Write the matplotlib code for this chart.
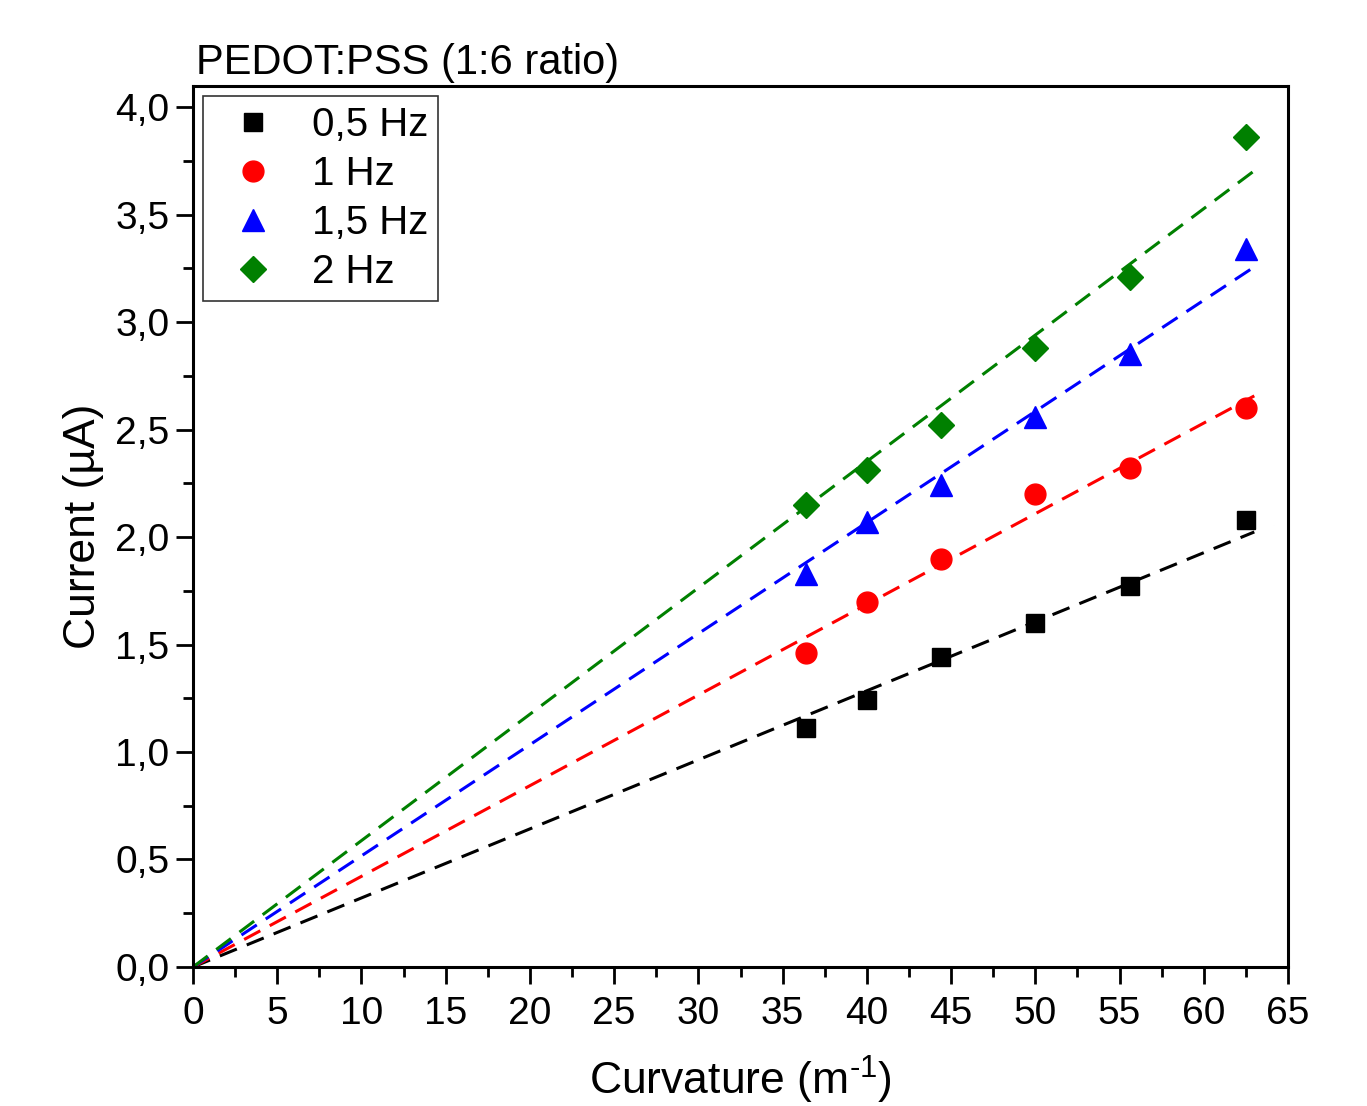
import numpy as np
import matplotlib.pyplot as plt
from matplotlib.ticker import MultipleLocator, FuncFormatter

plt.rcParams['font.family'] = ['Liberation Sans', 'DejaVu Sans']
plt.rcParams['mathtext.fontset'] = 'custom'
plt.rcParams['mathtext.rm'] = 'Liberation Sans'

# curvature (1/m) and current (uA) per frequency
curvature = [36.4, 40.0, 44.4, 50.0, 55.6, 62.5]
i_05hz = [1.11, 1.24, 1.44, 1.60, 1.77, 2.08]
i_1hz = [1.46, 1.70, 1.90, 2.20, 2.32, 2.60]
i_15hz = [1.83, 2.07, 2.24, 2.56, 2.85, 3.34]
i_2hz = [2.15, 2.31, 2.52, 2.88, 3.21, 3.86]
labels = ['0,5 Hz', '1 Hz', '1,5 Hz', '2 Hz']

series = [i_05hz, i_1hz, i_15hz, i_2hz]
colors = ['black', 'red', 'blue', 'green']
markers = ['s', 'o', '^', 'D']
msizes = [13, 15, 16, 13]

fig = plt.figure(figsize=(13.67, 11.06), dpi=100)
ax = fig.add_axes([0.1412, 0.1257, 0.8010, 0.7965])

x = np.array(curvature)
xfit = np.linspace(0, 63, 50)
for y, c, m, ms, lab in zip(series, colors, markers, msizes, labels):
    y = np.array(y)
    # linear fit through the origin
    slope = np.sum(x * y) / np.sum(x * x)
    ax.plot(xfit, slope * xfit, color=c, lw=2.2, dashes=(6, 3.5), zorder=2)
    ax.plot(x, y, ls='none', marker=m, ms=ms, color=c, mec=c, label=lab, zorder=3)

ax.set_xlim(0, 65)
ax.set_ylim(0, 4.098)
ax.xaxis.set_major_locator(MultipleLocator(5))
ax.xaxis.set_minor_locator(MultipleLocator(2.5))
ax.yaxis.set_major_locator(MultipleLocator(0.5))
ax.yaxis.set_minor_locator(MultipleLocator(0.25))
ax.yaxis.set_major_formatter(FuncFormatter(lambda v, p: ('%.1f' % v).replace('.', ',')))

ax.tick_params(which='major', direction='out', length=12, width=2, labelsize=28, pad=5)
ax.tick_params(axis='x', which='major', pad=9)
ax.tick_params(which='minor', direction='out', length=7, width=2)
for s in ax.spines.values():
    s.set_linewidth(2.2)

ax.set_xlabel('Curvature (m$^{\\text{-1}}$)', fontsize=32, labelpad=16)
ax.set_ylabel('Current (µA)', fontsize=32, labelpad=8)
ax.set_title('PEDOT:PSS (1:6 ratio)', fontsize=30, loc='left', pad=9, x=0.003)

leg = ax.legend(loc='upper left', fontsize=29, frameon=True, fancybox=False,
                edgecolor='black', borderaxespad=0.25, handletextpad=0.45,
                labelspacing=0.27, borderpad=0.25, markerscale=1.0)
leg.get_frame().set_linewidth(1.2)

fig.savefig('out.png', dpi=100)
